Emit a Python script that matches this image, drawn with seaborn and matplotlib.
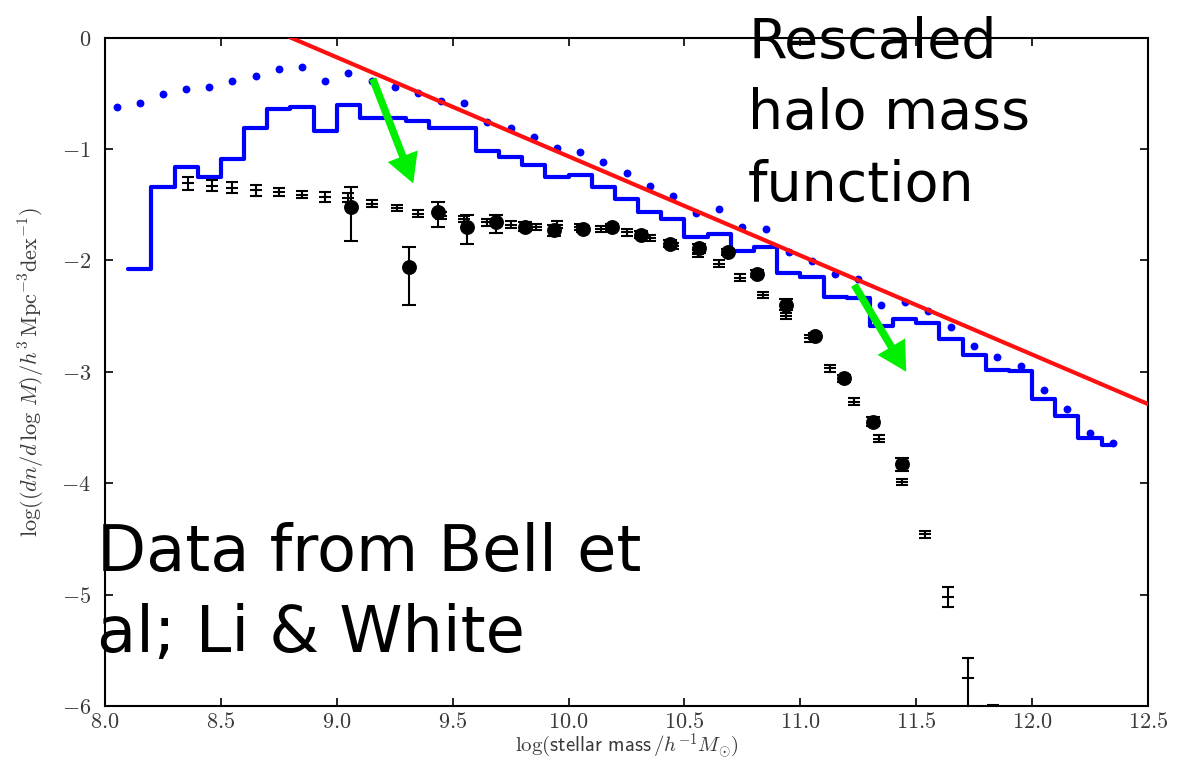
import matplotlib
matplotlib.use("Agg")
import matplotlib.pyplot as plt
import seaborn as sns
import pandas as pd
from matplotlib.ticker import FuncFormatter, MultipleLocator

# ---------------------------------------------------------------- data
# rescaled halo mass function (straight line, clipped at the top)
halo_mass = [8.80, 12.50]
halo_phi = [0.0, -3.29]

# model stellar mass function: histogram bins (lower edges) and values
model_bin_lo = [8.1, 8.2, 8.3, 8.4, 8.5, 8.6, 8.7, 8.8, 8.9, 9.0, 9.1, 9.2, 9.3,
                9.4, 9.5, 9.6, 9.7, 9.8, 9.9, 10.0, 10.1, 10.2, 10.3, 10.4, 10.5,
                10.6, 10.7, 10.8, 10.9, 11.0, 11.1, 11.2, 11.3, 11.4, 11.5, 11.6,
                11.7, 11.8, 11.9, 12.0, 12.1, 12.2, 12.3]
model_last_edge = 12.35
model_phi = [-2.08, -1.34, -1.16, -1.25, -1.09, -0.81, -0.64, -0.62, -0.84, -0.61,
             -0.72, -0.72, -0.75, -0.815, -0.815, -1.015, -1.075, -1.143, -1.248,
             -1.233, -1.344, -1.45, -1.562, -1.63, -1.79, -1.765, -1.912, -1.876,
             -2.113, -2.148, -2.325, -2.34, -2.587, -2.528, -2.563, -2.707, -2.85,
             -2.985, -2.997, -3.245, -3.395, -3.595, -3.655]

# second model curve, drawn as dots
dot_mass = [8.05, 8.15, 8.25, 8.35, 8.45, 8.55, 8.65, 8.75, 8.85, 8.95, 9.05, 9.15,
            9.25, 9.35, 9.45, 9.55, 9.65, 9.75, 9.85, 9.95, 10.05, 10.15, 10.25,
            10.35, 10.45, 10.55, 10.65, 10.75, 10.85, 10.95, 11.05, 11.15, 11.25,
            11.35, 11.45, 11.55, 11.65, 11.75, 11.85, 11.95, 12.05, 12.15, 12.25,
            12.35]
dot_phi = [-0.623, -0.587, -0.507, -0.462, -0.444, -0.390, -0.345, -0.283, -0.265,
           -0.390, -0.318, -0.390, -0.440, -0.498, -0.570, -0.587, -0.758, -0.812,
           -0.892, -0.991, -1.027, -1.117, -1.215, -1.332, -1.422, -1.574, -1.538,
           -1.700, -1.717, -1.924, -2.004, -2.121, -2.166, -2.399, -2.372, -2.453,
           -2.596, -2.767, -2.865, -2.946, -3.161, -3.332, -3.547, -3.637]

# Bell et al. measurements (filled circles)
bell_mass = [9.0625, 9.3125, 9.4375, 9.5625, 9.6875, 9.8125, 9.9375, 10.0625,
             10.1875, 10.3125, 10.4375, 10.5625, 10.6875, 10.8125, 10.9375,
             11.0625, 11.1875, 11.3125, 11.4375]
bell_phi = [-1.52, -2.06, -1.57, -1.70, -1.66, -1.70, -1.73, -1.72, -1.70, -1.77,
            -1.85, -1.89, -1.925, -2.12, -2.40, -2.68, -3.06, -3.45, -3.83]
bell_err_hi = [0.18, 0.18, 0.09, 0.105, 0.07, 0.04, 0.05, 0.03, 0.03, 0.03, 0.03,
               0.04, 0.03, 0.03, 0.05, 0.03, 0.03, 0.04, 0.06]
bell_err_lo = [0.31, 0.34, 0.13, 0.155, 0.095, 0.04, 0.05, 0.03, 0.03, 0.03, 0.03,
               0.04, 0.03, 0.03, 0.05, 0.03, 0.03, 0.04, 0.06]

# Li & White measurements (bars with a centre tick)
lw_mass = [8.36, 8.46, 8.55, 8.65, 8.75, 8.85, 8.95, 9.05, 9.15, 9.26, 9.35, 9.45,
           9.55, 9.65, 9.75, 9.86, 9.95, 10.05, 10.14, 10.25, 10.35, 10.45, 10.56,
           10.65, 10.74, 10.84, 10.94, 11.04, 11.13, 11.23, 11.34, 11.44, 11.54,
           11.635, 11.725, 11.83]
lw_phi = [-1.31, -1.33, -1.35, -1.37, -1.39, -1.41, -1.43, -1.44, -1.49, -1.53,
          -1.58, -1.60, -1.63, -1.66, -1.68, -1.70, -1.68, -1.70, -1.72, -1.75,
          -1.80, -1.87, -1.94, -2.03, -2.155, -2.31, -2.50, -2.70, -2.97, -3.27,
          -3.60, -3.99, -4.46, -5.02, -5.75, -6.30]
lw_err_hi = [0.06, 0.05, 0.05, 0.05, 0.035, 0.035, 0.045, 0.04, 0.03, 0.03, 0.03,
             0.03, 0.03, 0.03, 0.03, 0.03, 0.03, 0.03, 0.03, 0.03, 0.03, 0.03, 0.03,
             0.03, 0.03, 0.03, 0.03, 0.03, 0.03, 0.03, 0.03, 0.03, 0.03, 0.09, 0.18,
             0.31]
lw_err_lo = [0.06, 0.05, 0.05, 0.05, 0.035, 0.035, 0.045, 0.04, 0.03, 0.03, 0.03,
             0.03, 0.03, 0.03, 0.03, 0.03, 0.03, 0.03, 0.03, 0.03, 0.03, 0.03, 0.03,
             0.03, 0.03, 0.03, 0.03, 0.03, 0.03, 0.03, 0.03, 0.03, 0.03, 0.09, 0.50,
             0.30]

# arrows: (start mass, start phi, tip mass, tip phi)
arrows = [(9.155, -0.37, 9.33, -1.31), (11.233, -2.22, 11.457, -3.0)]

# ---------------------------------------------------------------- style
sns.set_theme(style="ticks")
plt.rcParams["font.family"] = ["DejaVu Sans"]
plt.rcParams["mathtext.fontset"] = "cm"

W, H = 1184, 760
fig = plt.figure(figsize=(W / 100, H / 100), dpi=100)
ax = fig.add_axes([105 / W, 1 - 706 / H, (1148 - 105) / W, (706 - 37.5) / H])
ax.set_facecolor("white")

BLUE = "#0000ff"

# model histogram as a stair line
step_x = model_bin_lo + [model_last_edge]
step_y = model_phi + [model_phi[-1]]
sns.lineplot(x=step_x, y=step_y, drawstyle="steps-post", color=BLUE, lw=3.0,
             ax=ax, sort=False, estimator=None)

# dotted model
sns.scatterplot(x=dot_mass, y=dot_phi, color=BLUE, s=32, linewidth=0, ax=ax,
                zorder=3)

# halo mass function
sns.lineplot(x=halo_mass, y=halo_phi, color="#ff1010", lw=3.0, ax=ax,
             estimator=None, zorder=4)

# Li & White data
ax.errorbar(lw_mass, lw_phi, yerr=[lw_err_lo, lw_err_hi], fmt="_", color="black",
            ms=9, mew=1.5, elinewidth=1.5, capsize=4.5, capthick=1.5, zorder=5)

# Bell et al data
ax.errorbar(bell_mass, bell_phi, yerr=[bell_err_lo, bell_err_hi], fmt="none",
            ecolor="black", elinewidth=1.5, capsize=5, capthick=1.5, zorder=5)
bell_df = pd.DataFrame({"mass": bell_mass, "phi": bell_phi})
sns.scatterplot(data=bell_df, x="mass", y="phi", color="black", s=115,
                linewidth=0, ax=ax, zorder=6)

for x0, y0, x1, y1 in arrows:
    ax.annotate("", xy=(x1, y1), xytext=(x0, y0),
                arrowprops=dict(arrowstyle="simple,head_width=1.15,head_length=1.05,tail_width=0.27",
                                color="#00ee00", mutation_scale=20,
                                shrinkA=0, shrinkB=0, lw=0),
                zorder=7)

# ---------------------------------------------------------------- axes
ax.set_xlim(8.0, 12.5)
ax.set_ylim(-6.0, 0.0)
ax.xaxis.set_major_locator(MultipleLocator(0.5))
ax.yaxis.set_major_locator(MultipleLocator(1.0))
ax.xaxis.set_major_formatter(FuncFormatter(lambda v, p: f"${v:.1f}$"))
ax.yaxis.set_major_formatter(
    FuncFormatter(lambda v, p: r"$\mathbf{0}$" if abs(v) < 1e-9 else f"${v:.0f}$"))

for side in ["left", "right", "top", "bottom"]:
    ax.spines[side].set_visible(True)
    ax.spines[side].set_linewidth(1.5)
    ax.spines[side].set_color("black")

ax.tick_params(axis="both", which="major", direction="in", length=6, width=1.2,
               top=True, right=True, labelsize=16, labelcolor="#3a3a3a",
               color="black")
ax.tick_params(axis="x", pad=4)
ax.tick_params(axis="y", pad=10)

ax.set_xlabel(r"$\log(\mathsf{stellar\ mass}\,/h^{-1}M_{\odot})$", fontsize=15,
              color="#3a3a3a")
ax.set_ylabel(r"$\log((dn/d\,\log\,M)/h^3\,\mathrm{Mpc}^{-3}\mathrm{dex}^{-1})$",
              fontsize=16, color="#3a3a3a")
ax.xaxis.set_label_coords(0.5, -0.038)
ax.xaxis.label.set_va("top")
ax.yaxis.set_label_coords(-0.056, 0.5)

# big annotations
fig.text(748 / W, 1 - 16 / H, "Rescaled\nhalo mass\nfunction", fontsize=40,
         color="black", ha="left", va="top", linespacing=1.41)
fig.text(97 / W, 1 - 522 / H, "Data from Bell et\nal; Li & White", fontsize=46,
         color="black", ha="left", va="top", linespacing=1.38, zorder=10)

fig.savefig("out.png", dpi=100, facecolor="white")
